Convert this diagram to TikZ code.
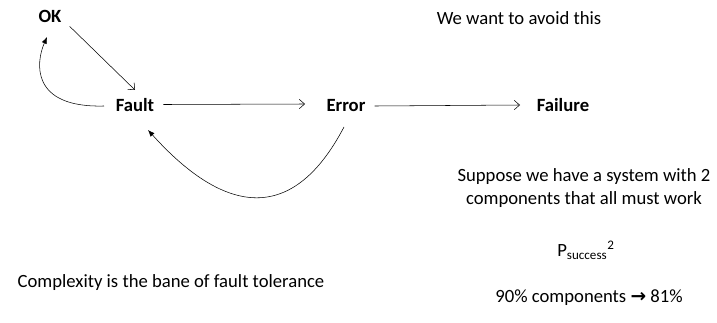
\documentclass[tikz,border=0pt]{standalone}
\usepackage{fontspec}
\setmainfont{Carlito}
\newfontfamily\symfont{DejaVu Sans}
\usetikzlibrary{arrows.meta}

\tikzset{
	state/.style={font=\fontsize{14}{17}\selectfont\bfseries, anchor=base},
	note/.style={align=center},
	plain/.style={-{Straight Barb[length=4pt,width=7pt]}, thin},
	back/.style={-{Latex[length=5pt,width=4pt]}, thin}
}

\begin{document}
\begin{tikzpicture}[x=0.75pt, y=-0.75pt, every node/.style={font=\fontsize{14}{17}\selectfont, inner sep=0pt}]
		\useasboundingbox (0,0) rectangle (717,323);

		% states
		\node[state] (ok) at (50,23) {OK};
		\node[state] (fault) at (135,112) {Fault};
		\node[state] (error) at (346,112) {Error};
		\node[state] (failure) at (563,112) {Failure};

		\coordinate (faultl) at (104,106);
		\coordinate (errorb) at (344,127);

		\draw[plain] (ok.south east) ++(8,3) -- (135,90);
		\draw[plain] (fault.east) ++(9,-1) -- (305,104);
		\draw[plain] (error.east) ++(9,0) -- (520,105);
		\draw[back] (faultl) .. controls (30,108) and (36,62) .. (47,37);
		\draw[back] (errorb) .. controls (290,230) and (220,210) .. (148,130);

		% notes
		\node[note] (avoid) at (519,18) {We want to avoid this};
		\node[note] (suppose) at (584,188) {Suppose we have a system with 2\\components that all must work};
		\node[note] (psucc) at (586,250) {P\textsubscript{success}\textsuperscript{2}};
		\node[note] (bane) at (171,283) {Complexity is the bane of fault tolerance};
		\node[note] (ninety) at (589,298) {90\% components {\symfont\bfseries →} 81\%};
\end{tikzpicture}
\end{document}
